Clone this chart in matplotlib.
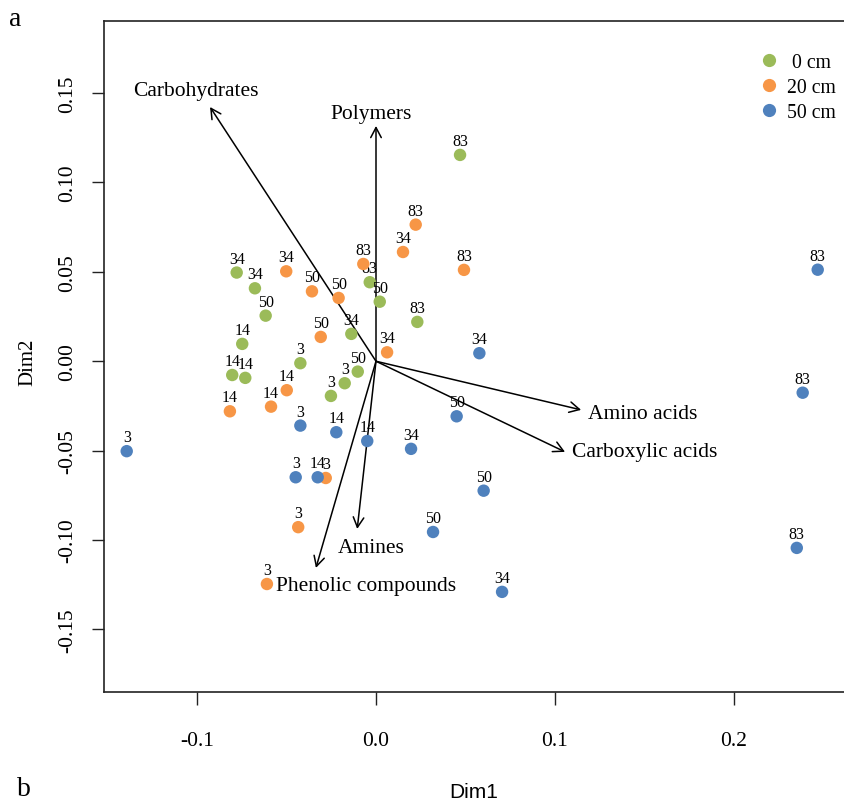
import matplotlib
matplotlib.use("Agg")
import matplotlib.pyplot as plt
from matplotlib.patches import FancyArrowPatch
from matplotlib.lines import Line2D

plt.rcParams['font.family'] = ['Liberation Serif', 'DejaVu Serif']

# ---- data ----
depths = [" 0 cm", "20 cm", "50 cm"]
colors = ["#9BBB59", "#F79646", "#4F81BD"]

x_0cm = [0.0470, -0.0779, -0.0677, -0.0617, -0.0748, -0.0804, -0.0731, -0.0423,
         -0.0175, -0.0252, -0.0102, -0.0138, -0.0035, 0.0021, 0.0231]
y_0cm = [0.1154, 0.0496, 0.0408, 0.0255, 0.0097, -0.0077, -0.0093, -0.0011,
         -0.0123, -0.0194, -0.0058, 0.0153, 0.0442, 0.0333, 0.0220]
lab_0cm = ["83", "34", "34", "50", "14", "14", "14", "3", "3", "3", "50", "34", "83", "50", "83"]

x_20cm = [-0.0502, -0.0358, -0.0209, -0.0309, -0.0071, 0.0151, 0.0222, 0.0492,
          0.0062, -0.0499, -0.0587, -0.0817, -0.0281, -0.0435, -0.0610]
y_20cm = [0.0503, 0.0391, 0.0354, 0.0136, 0.0544, 0.0611, 0.0764, 0.0511,
          0.0050, -0.0162, -0.0254, -0.0280, -0.0653, -0.0928, -0.1246]
lab_20cm = ["34", "50", "50", "50", "83", "34", "83", "83", "34", "14", "14", "14", "3", "3", "3"]

x_50cm = [-0.1394, -0.0423, -0.0222, -0.0049, -0.0449, -0.0326, 0.0578, 0.0451,
          0.0196, 0.0602, 0.0319, 0.0705, 0.2470, 0.2386, 0.2353]
y_50cm = [-0.0503, -0.0360, -0.0397, -0.0446, -0.0649, -0.0649, 0.0045, -0.0308,
          -0.0490, -0.0724, -0.0955, -0.1290, 0.0512, -0.0176, -0.1044]
lab_50cm = ["3", "3", "14", "14", "3", "14", "34", "50", "34", "50", "50", "34", "83", "83", "83"]

vec_names = ["Carbohydrates", "Polymers", "Amino acids", "Carboxylic acids", "Amines", "Phenolic compounds"]
vec_x = [-0.0928, 0.0000, 0.1147, 0.1057, -0.0105, -0.0336]
vec_y = [0.1422, 0.1316, -0.0272, -0.0507, -0.0938, -0.1156]
vec_lab_x = [-0.1007, -0.0028, 0.1493, 0.1504, -0.0028, -0.0056]
vec_lab_y = [0.1512, 0.1383, -0.0295, -0.0507, -0.1039, -0.1257]

xticks = [-0.1, 0.0, 0.1, 0.2]
xticklabels = ["-0.1", "0.0", "0.1", "0.2"]
yticks = [-0.15, -0.10, -0.05, 0.00, 0.05, 0.10, 0.15]
yticklabels = ["-0.15", "-0.10", "-0.05", "0.00", "0.05", "0.10", "0.15"]

# ---- figure ----
W, H = 845, 804
fig = plt.figure(figsize=(W / 100, H / 100), dpi=100)
ax = fig.add_axes([104 / W, (H - 693) / H, (844 - 104) / W, (693 - 22) / H])
ax.set_xlim(-0.1521, 0.2617)
ax.set_ylim(-0.1850, 0.1903)

for s in ["left", "bottom", "top"]:
    ax.spines[s].set_linewidth(1.2)
    ax.spines[s].set_color("#222222")
ax.spines["right"].set_visible(False)

ax.set_xticks(xticks)
ax.set_xticklabels(xticklabels)
ax.set_yticks(yticks)
ax.set_yticklabels(yticklabels, rotation=90, va="center")
ax.tick_params(axis="both", length=9, width=1.0, labelsize=15.5, color="#222222")
ax.tick_params(axis="x", pad=19)
ax.tick_params(axis="y", pad=10)

# arrows
for name, vx, vy, lx, ly in zip(vec_names, vec_x, vec_y, vec_lab_x, vec_lab_y):
    arr = FancyArrowPatch((0, 0), (vx, vy), arrowstyle="->,head_length=0.72,head_width=0.38",
                          mutation_scale=10, color="black", lw=1.1, shrinkA=0, shrinkB=0)
    ax.add_patch(arr)
    ax.text(lx, ly, name, ha="center", va="center", fontsize=15.5)

# points
for xs, ys, labs, c in [(x_0cm, y_0cm, lab_0cm, colors[0]),
                        (x_20cm, y_20cm, lab_20cm, colors[1]),
                        (x_50cm, y_50cm, lab_50cm, colors[2])]:
    ax.scatter(xs, ys, s=80, color=c, edgecolors="none", zorder=3)
    for xi, yi, t in zip(xs, ys, labs):
        ax.annotate(t, (xi, yi), xytext=(0, 7.2), textcoords="offset points",
                    ha="center", va="baseline", fontsize=11.5)

# legend
handles = [Line2D([], [], marker="o", linestyle="none", markersize=9.5,
                  markerfacecolor=c, markeredgecolor="none") for c in colors]
leg = ax.legend(handles, depths, loc="upper left", bbox_to_anchor=(759 / W, (H - 54) / H),
                bbox_transform=fig.transFigure, frameon=False, fontsize=14.2,
                handlelength=1.0, handletextpad=0.42, labelspacing=0.3,
                borderpad=0, borderaxespad=0)

# axis titles and panel letters
fig.text(474 / W, (H - 793) / H, "Dim1", ha="center", va="center", fontsize=15,
         family=["Liberation Sans", "DejaVu Sans"])
fig.text(28 / W, (H - 362) / H, "Dim2", ha="center", va="center", fontsize=15, rotation=90)
fig.text(15 / W, (H - 20) / H, "a", ha="center", va="center", fontsize=20)
fig.text(24 / W, (H - 790) / H, "b", ha="center", va="center", fontsize=20)

fig.savefig("out.png", dpi=100)
